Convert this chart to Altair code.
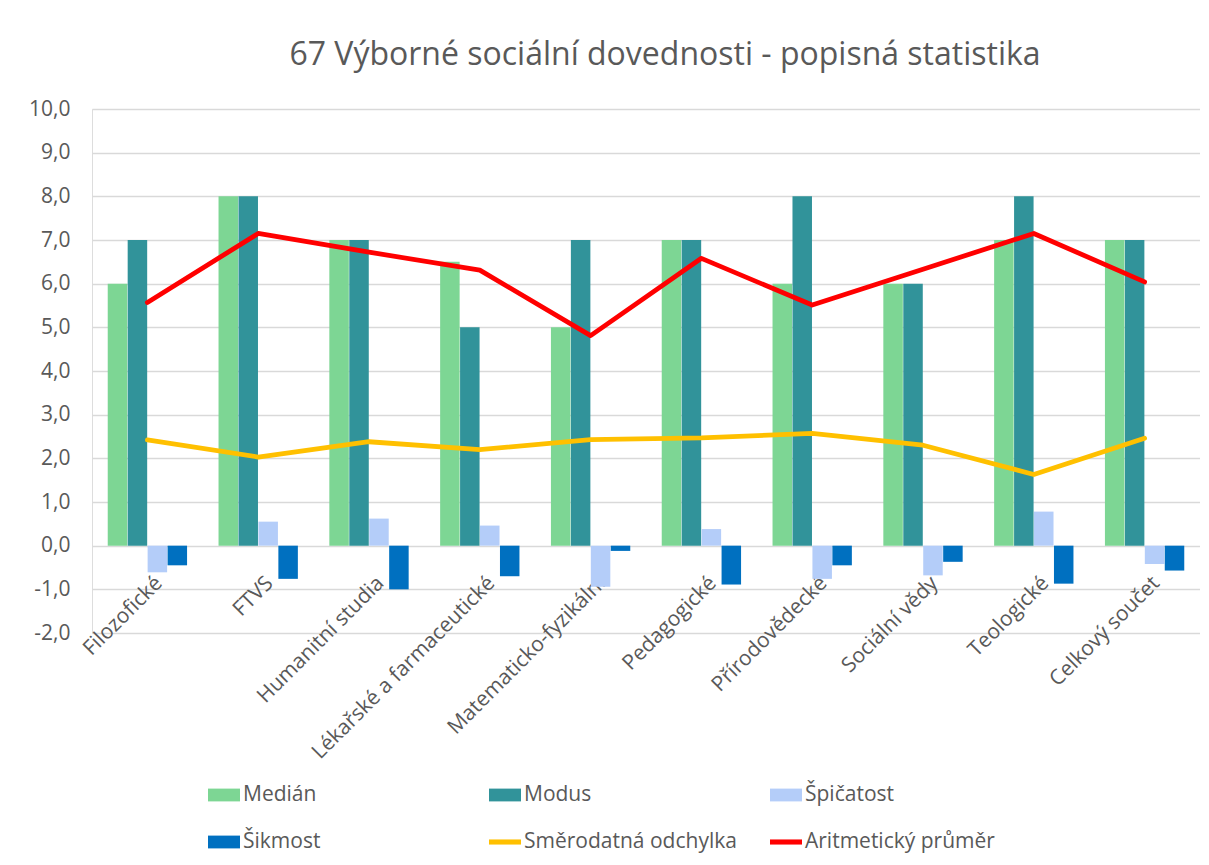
import altair as alt
import pandas as pd

categories = ["Filozofické", "FTVS", "Humanitní studia", "Lékařské a farmaceutické",
              "Matematicko-fyzikální", "Pedagogické", "Přírodovědecké", "Sociální vědy",
              "Teologické", "Celkový součet"]
median = [6, 8, 7, 6.5, 5, 7, 6, 6, 7, 7]
modus = [7, 8, 7, 5, 7, 7, 8, 6, 8, 7]
spicatost = [-0.61, 0.55, 0.62, 0.46, -0.94, 0.38, -0.76, -0.68, 0.78, -0.42]
sikmost = [-0.45, -0.76, -1.0, -0.70, -0.12, -0.89, -0.45, -0.37, -0.87, -0.57]
smerodatna = [2.42, 2.03, 2.38, 2.20, 2.43, 2.47, 2.57, 2.30, 1.63, 2.46]
prumer = [5.57, 7.15, 6.72, 6.31, 4.81, 6.58, 5.51, 6.33, 7.15, 6.04]

bar_series = ["Medián", "Modus", "Špičatost", "Šikmost"]
line_series = ["Směrodatná odchylka", "Aritmetický průměr"]
series_names = bar_series + line_series
series_colors = ["#7dd694", "#31939a", "#b4cdf9", "#0070c0", "#ffc000", "#ff0000"]
y_ticks = [v / 2 for v in range(-4, 21)]

bar_rows = []
for name, vals in zip(bar_series, [median, modus, spicatost, sikmost]):
    for c, v in zip(categories, vals):
        bar_rows.append({"category": c, "series": name, "value": v})
df_bars = pd.DataFrame(bar_rows)

line_rows = []
for name, vals in zip(line_series, [smerodatna, prumer]):
    for c, v in zip(categories, vals):
        line_rows.append({"category": c, "series": name, "value": v})
df_lines = pd.DataFrame(line_rows)

df_legend = pd.DataFrame({"category": [categories[0]] * len(series_names),
                          "series": series_names, "value": [0] * len(series_names)})

FONT = "Open Sans"
TXT = "#595959"

line_shape = "M-1,-0.16L1,-0.16L1,0.16L-1,0.16Z"
box_shape = "M-1,-0.4L1,-0.4L1,0.4L-1,0.4Z"
shape_range = [box_shape] * 4 + [line_shape] * 2

color_scale = alt.Scale(domain=series_names, range=series_colors)

legend = alt.Legend(
    title=None, orient="none", legendX=116, legendY=670, columns=3,
    direction="horizontal",
    columnPadding=33, rowPadding=21, gridAlign="all",
    labelFont=FONT, labelFontSize=21, labelColor=TXT, labelOffset=3,
    symbolSize=1024, symbolStrokeWidth=0, symbolOpacity=1, labelLimit=400,
)

x_enc = alt.X("category:N", sort=categories,
              scale=alt.Scale(paddingInner=0.28, paddingOuter=0.14),
              axis=alt.Axis(title=None, labelAngle=-45, labelAlign="right",
                            labelBaseline="top", labelPadding=-61, labelOffset=4,
                            domain=False, ticks=False, grid=False,
                            labelFont=FONT, labelFontSize=21, labelColor=TXT,
                            labelLimit=400, labelOverlap=False))

y_enc = alt.Y("value:Q", scale=alt.Scale(domain=[-2, 10], nice=False, zero=False),
              axis=alt.Axis(title=None, values=y_ticks, domain=False, ticks=False,
                            labelExpr="datum.value % 1 == 0 ? replace(replace(format(datum.value, '.1f'), '.', ','), '\u2212', '-') : ''",
                            labelFont=FONT, labelFontSize=21, labelColor=TXT,
                            labelPadding=22,
                            gridColor={"condition": {"test": "datum.value % 1 != 0", "value": "#f0f0f0"},
                                       "value": "#d9d9d9"},
                            gridWidth=1.3))

bars = alt.Chart(df_bars).mark_bar(size=19.5).encode(
    x=x_enc,
    xOffset=alt.XOffset("series:N", sort=bar_series,
                        scale=alt.Scale(domain=bar_series, paddingInner=0, paddingOuter=0)),
    y=y_enc,
    color=alt.Color("series:N", scale=color_scale, legend=legend),
)

lines = alt.Chart(df_lines).mark_line(strokeWidth=4.8, strokeCap="round", strokeJoin="round").encode(
    x=alt.X("category:N", sort=categories),
    y=alt.Y("value:Q"),
    color=alt.Color("series:N", scale=color_scale, legend=legend),
    detail="series:N",
)

legend_layer = alt.Chart(df_legend).mark_point(filled=True, opacity=0).encode(
    x=alt.X("category:N", sort=categories),
    y=alt.Y("value:Q"),
    color=alt.Color("series:N", scale=color_scale, legend=legend),
    shape=alt.Shape("series:N", scale=alt.Scale(domain=series_names, range=shape_range),
                    legend=legend),
)

chart = alt.layer(legend_layer, bars, lines).properties(
    width=1108, height=524,
    padding={"left": 84, "top": 101, "right": 0, "bottom": 222},
    autosize=alt.AutoSizeParams(type="none"),
    title=alt.TitleParams("67 Výborné sociální dovednosti - popisná statistika",
                          font=FONT, fontSize=32, fontWeight="normal", color=TXT,
                          anchor="middle", dx=19, offset=26),
).configure_view(stroke=None).configure(background="white")

chart.save("out.html", embed_options={"renderer": "svg", "actions": False})
